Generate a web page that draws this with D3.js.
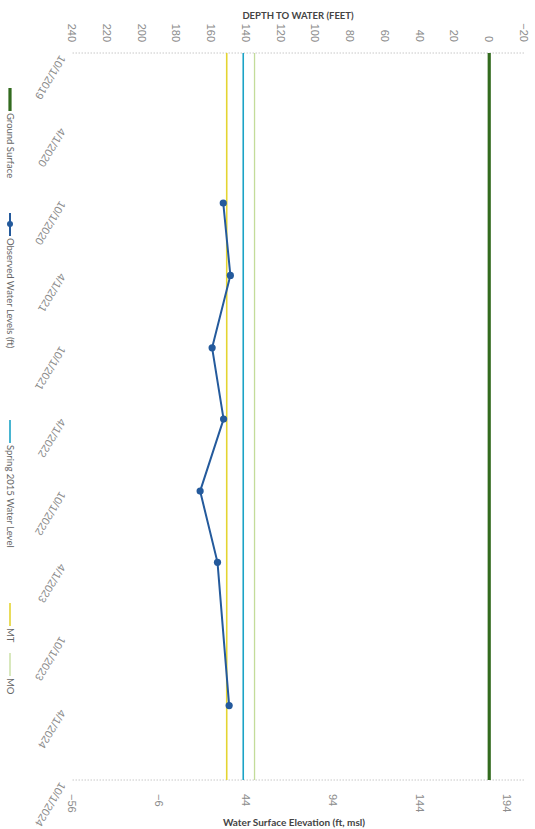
<!DOCTYPE html>
<html>
<head>
<meta charset="utf-8">
<script src="https://cdn.jsdelivr.net/npm/d3@7"></script>
<style>
  html, body { margin: 0; padding: 0; background: #ffffff; }
  svg { display: block; font-family: Lato, "Open Sans", sans-serif; }
</style>
</head>
<body>
<svg id="chart" width="535" height="829"></svg>
<script>
// ---- data ----
const dateTickLabels = ["10/1/2019","4/1/2020","10/1/2020","4/1/2021","10/1/2021","4/1/2022",
                        "10/1/2022","4/1/2023","10/1/2023","4/1/2024","10/1/2024"];
const depthTicks = [240,220,200,180,160,140,120,100,80,60,40,20,0,-20];
const elevationTicks = [-56,-6,44,94,144,194];

const observedDates = ["2020-10-12","2021-04-12","2021-10-11","2022-04-08","2022-10-06","2023-04-03","2024-03-28"];
const observedDepth = [153.0,148.9,159.4,152.8,166.3,156.3,149.6];

const groundSurfaceDepth = 0;     // ground surface elevation 184 ft msl
const groundSurfaceElev = 184;
const spring2015Depth = 141.5;
const mtDepth = 151;
const moDepth = 135;

const legendNames = ["Ground Surface","Observed Water Levels (ft)","Spring 2015 Water Level","MT","MO"];

// ---- layout (chart drawn landscape, then turned a quarter clockwise) ----
const H = 535;
const svg = d3.select("#chart");
const g = svg.append("g").attr("transform", `translate(${H},0) rotate(90)`);

const parseMDY = d3.timeParse("%m/%d/%Y");
const parseISO = d3.timeParse("%Y-%m-%d");
const tickDates = dateTickLabels.map(parseMDY);

const x = d3.scaleTime()
  .domain([tickDates[0], tickDates[tickDates.length - 1]])
  .range([53, 780]);
const yDepth = d3.scaleLinear().domain([-20, 240]).range([11, 463]);
const yElev = d3.scaleLinear()
  .domain([groundSurfaceElev + 20, groundSurfaceElev - 240])
  .range([11, 463]);

const colors = {
  ground: "#336b1f",
  observed: "#245a9c",
  spring: "#1ba3c6",
  mt: "#e4d431",
  mo: "#c3dc9a"
};
const tickColor = "#8c8c8c";

// plot edges (dotted value-axis lines)
[x.range()[0], x.range()[1]].forEach(px => {
  g.append("line")
    .attr("x1", px).attr("x2", px)
    .attr("y1", yDepth(-20)).attr("y2", yDepth(240))
    .attr("stroke", "#c8c8c8").attr("stroke-width", 1)
    .attr("stroke-dasharray", "1.5,1.5");
});

// depth axis (left in landscape)
const depthAxis = g.append("g").attr("transform", `translate(${x.range()[0]},0)`)
  .call(d3.axisLeft(yDepth).tickValues(depthTicks).tickSize(0).tickPadding(11));
depthAxis.select(".domain").remove();
depthAxis.selectAll("text")
  .attr("fill", tickColor).style("font-size", "11px");

// elevation axis (right in landscape)
const elevAxis = g.append("g").attr("transform", `translate(${x.range()[1]},0)`)
  .call(d3.axisRight(yElev).tickValues(elevationTicks).tickSize(0).tickPadding(14));
elevAxis.select(".domain").remove();
elevAxis.selectAll("text")
  .attr("fill", tickColor).style("font-size", "11px");

// date axis labels
const dateAxis = g.append("g").attr("transform", `translate(0,${yDepth(240)})`)
  .call(d3.axisBottom(x).tickValues(tickDates).tickSize(0).tickFormat(d3.timeFormat("%-m/%-d/%Y")));
dateAxis.select(".domain").remove();
dateAxis.selectAll("text")
  .attr("fill", tickColor).style("font-size", "11px")
  .attr("text-anchor", "start")
  .attr("y", 0)
  .attr("dy", "0.35em")
  .attr("transform", "translate(3,9) rotate(31)");

// axis titles
g.append("text")
  .attr("transform", `translate(16,${(yDepth(-20) + yDepth(240)) / 2}) rotate(-90)`)
  .attr("text-anchor", "middle").attr("dy", "0.35em")
  .attr("fill", "#444").style("font-size", "9.5px").style("font-weight", "700")
  .text("DEPTH TO WATER (FEET)");
g.append("text")
  .attr("transform", `translate(822,${(yDepth(-20) + yDepth(240)) / 2 + 4}) rotate(-90)`)
  .attr("text-anchor", "middle").attr("dy", "0.35em")
  .attr("fill", "#444").style("font-size", "10px").style("font-weight", "700")
  .text("Water Surface Elevation (ft, msl)");

// reference levels
const refLevels = [
  {depth: moDepth, color: colors.mo, w: 1.3},
  {depth: mtDepth, color: colors.mt, w: 1.6},
  {depth: spring2015Depth, color: colors.spring, w: 1.6},
  {depth: groundSurfaceDepth, color: colors.ground, w: 3.2}
];
refLevels.forEach(r => {
  g.append("line")
    .attr("x1", x.range()[0]).attr("x2", x.range()[1])
    .attr("y1", yDepth(r.depth)).attr("y2", yDepth(r.depth))
    .attr("stroke", r.color).attr("stroke-width", r.w);
});

// observed water levels
const obs = observedDates.map((d, i) => ({date: parseISO(d), depth: observedDepth[i]}));
g.append("path")
  .datum(obs)
  .attr("fill", "none").attr("stroke", colors.observed).attr("stroke-width", 2)
  .attr("d", d3.line().x(d => x(d.date)).y(d => yDepth(d.depth)));
g.selectAll("circle.obs").data(obs).join("circle")
  .attr("class", "obs")
  .attr("cx", d => x(d.date)).attr("cy", d => yDepth(d.depth))
  .attr("r", 3.6).attr("fill", colors.observed);

// legend (entries placed along the bottom of the landscape chart)
const legendColors = [colors.ground, colors.observed, colors.spring, colors.mt, colors.mo];
const legendWidths = [3.2, 2, 1.6, 1.6, 1.3];
const legendStarts = [88, 213, 420, 603, 653];
const legendY = 525;
legendNames.forEach((name, i) => {
  const it = g.append("g").attr("transform", `translate(${legendStarts[i]},${legendY})`);
  it.append("line").attr("x1", 0).attr("x2", 23).attr("y1", 0).attr("y2", 0)
    .attr("stroke", legendColors[i]).attr("stroke-width", legendWidths[i]);
  if (i === 1) it.append("circle").attr("cx", 11).attr("cy", 0).attr("r", 3).attr("fill", legendColors[i]);
  it.append("text").attr("x", 25).attr("dy", "0.35em")
    .attr("fill", "#666").style("font-size", "9.5px").text(name);
});
</script>
</body>
</html>
